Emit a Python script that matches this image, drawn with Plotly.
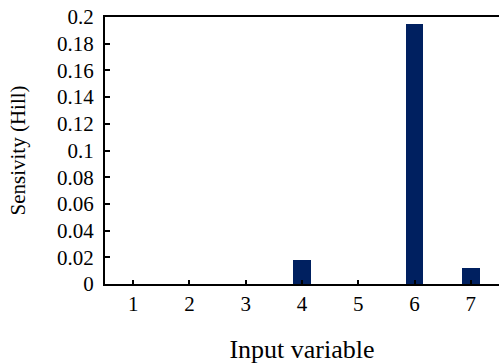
import plotly.graph_objects as go

categories = ["1", "2", "3", "4", "5", "6", "7"]
values = [0.0, 0.0, 0.0, 0.0177, 0.0, 0.1945, 0.0119]
y_ticks = [0, 0.02, 0.04, 0.06, 0.08, 0.1, 0.12, 0.14, 0.16, 0.18, 0.2]
y_tick_text = ["0", "0.02", "0.04", "0.06", "0.08", "0.1", "0.12", "0.14", "0.16", "0.18", "0.2"]

fig = go.Figure(go.Bar(
    x=list(range(1, 8)), y=values,
    marker=dict(color="#002060", line=dict(width=0)),
    width=0.31,
))

font = "Liberation Serif"
fig.update_layout(
    width=499, height=364,
    margin=dict(l=105, r=0, t=17, b=80),
    paper_bgcolor="white", plot_bgcolor="white",
    font=dict(family=font, color="black", size=21),
    showlegend=False,
    bargap=0,
)
fig.update_xaxes(
    range=[0.5, 7.5], tickvals=list(range(1, 8)), ticktext=categories,
    showline=True, linecolor="black", linewidth=2, mirror=True,
    ticks="inside", ticklen=4, tickwidth=2, tickcolor="black",
    showgrid=False, zeroline=False,
    tickfont=dict(family=font, size=21),
    title=dict(text="Input variable", font=dict(family=font, size=26), standoff=27),
)
fig.update_yaxes(
    range=[0, 0.2], tickvals=y_ticks, ticktext=y_tick_text,
    showline=True, linecolor="black", linewidth=2, mirror=False,
    ticks="inside", ticklen=5, tickwidth=2, tickcolor="black",
    showgrid=False, zeroline=False,
    tickfont=dict(family=font, size=21), ticklabelstandoff=5,
    title=dict(text="Sensivity (Hill)", font=dict(family=font, size=21), standoff=26),
)

fig.write_html("out.html")
